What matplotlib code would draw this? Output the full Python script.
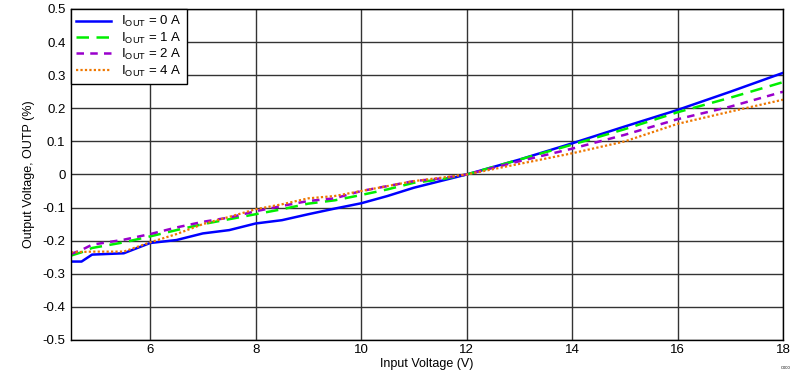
import matplotlib
matplotlib.use("Agg")
import matplotlib.pyplot as plt

plt.rcParams['font.family'] = ['Liberation Sans', 'DejaVu Sans']
plt.rcParams['mathtext.default'] = 'regular'
plt.rcParams['axes.unicode_minus'] = False

vin = [4.5, 4.7, 4.9, 5.5, 6, 6.5, 7, 7.5, 8, 8.5, 9, 9.5, 10, 10.5, 11, 11.5, 12, 13, 14, 15, 16, 17, 18]
outp_0a = [-0.263, -0.263, -0.242, -0.238, -0.207, -0.198, -0.178, -0.168, -0.148, -0.138, -0.12, -0.103,
           -0.087, -0.065, -0.04, -0.02, 0, 0.045, 0.094, 0.145, 0.195, 0.25, 0.307]
outp_1a = [-0.245, -0.235, -0.222, -0.205, -0.187, -0.168, -0.15, -0.135, -0.12, -0.105, -0.088, -0.078,
           -0.062, -0.045, -0.025, -0.015, 0, 0.045, 0.09, 0.137, 0.188, 0.232, 0.279]
outp_2a = [-0.24, -0.228, -0.212, -0.197, -0.18, -0.16, -0.143, -0.13, -0.111, -0.095, -0.08, -0.072,
           -0.05, -0.035, -0.02, -0.012, 0, 0.04, 0.078, 0.12, 0.167, 0.205, 0.25]
outp_4a = [-0.235, -0.234, -0.233, -0.233, -0.205, -0.18, -0.15, -0.128, -0.105, -0.09, -0.072, -0.065,
           -0.05, -0.035, -0.02, -0.01, 0, 0.032, 0.064, 0.1, 0.153, 0.19, 0.226]

labels = ['I$_{OUT}$ = 0 A', 'I$_{OUT}$ = 1 A', 'I$_{OUT}$ = 2 A', 'I$_{OUT}$ = 4 A']
xticks = [6, 8, 10, 12, 14, 16, 18]
yticks = [-0.5, -0.4, -0.3, -0.2, -0.1, 0, 0.1, 0.2, 0.3, 0.4, 0.5]
yticklabels = ['-0.5', '-0.4', '-0.3', '-0.2', '-0.1', '0', '0.1', '0.2', '0.3', '0.4', '0.5']

fig = plt.figure(figsize=(8.03, 3.82), dpi=100)
ax = fig.add_axes([71/803, 42/382, 712/803, 331/382])

ax.plot(vin, outp_0a, color='#0000ff', lw=1.8, ls='-', label=labels[0])
ax.plot(vin, outp_1a, color='#00ee00', lw=1.8, ls=(0, (5, 3)), label=labels[1])
ax.plot(vin, outp_2a, color='#9900cc', lw=1.8, ls=(0, (3, 2.5)), label=labels[2])
ax.plot(vin, outp_4a, color='#ee7700', lw=1.6, ls=(0, (1, 1)), label=labels[3])

ax.set_xlim(4.5, 18)
ax.set_ylim(-0.5, 0.5)
ax.set_xticks(xticks)
ax.set_yticks(yticks)
ax.set_yticklabels(yticklabels)
ax.grid(True, color='#333333', lw=1)
ax.tick_params(length=0, labelsize=9.5)
ax.tick_params(axis='y', pad=4)
ax.tick_params(axis='x', pad=3)
for s in ax.spines.values():
    s.set_color('black')
    s.set_linewidth(1)

ax.set_xlabel('Input Voltage (V)', fontsize=9, labelpad=1)
ax.set_ylabel('Output Voltage, OUTP (%)', fontsize=9, labelpad=5)

leg = ax.legend(loc='upper left', fontsize=9.5, frameon=True, fancybox=False,
                borderaxespad=0, handlelength=2.6, labelspacing=0.1,
                borderpad=0.4, handletextpad=0.8)
leg.get_frame().set_edgecolor('black')
leg.get_frame().set_linewidth(1)
leg.get_frame().set_alpha(1)

fig.text(0.985, 0.035, 'C000', fontsize=3, ha='right')

fig.savefig('out.png', dpi=100)
